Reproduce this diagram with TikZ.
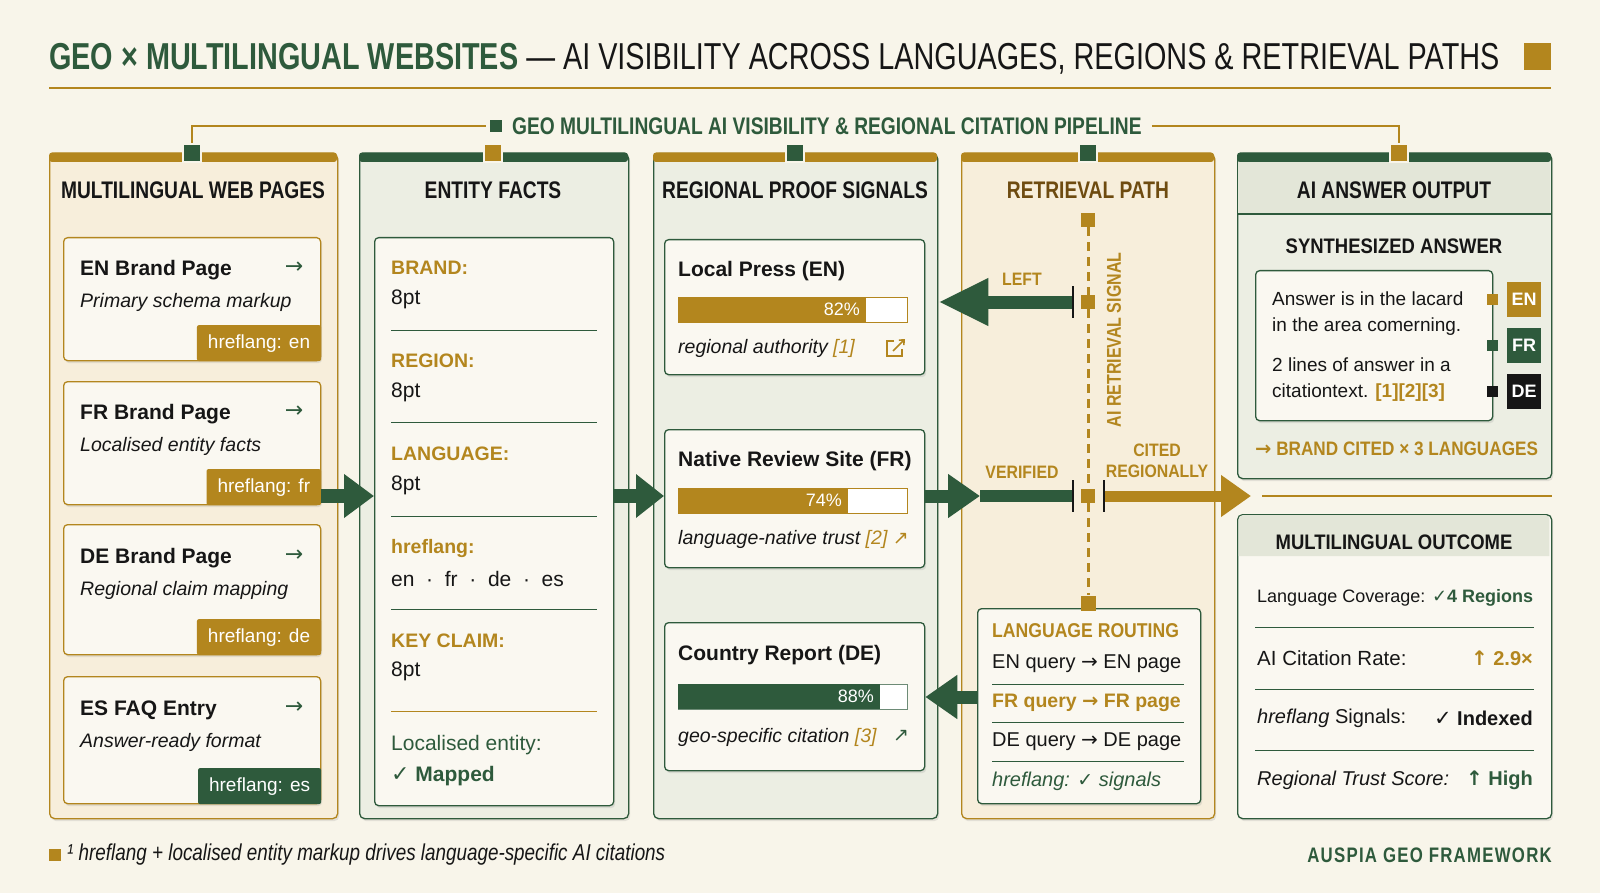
\documentclass[tikz,border=0pt]{standalone}
\usepackage{fontspec}
\setmainfont{Liberation Sans}
\newfontfamily\tcond[FakeStretch=0.768]{Liberation Sans}
\newfontfamily\fcond[FakeStretch=0.82]{Liberation Sans}
\newfontfamily\hcond[FakeStretch=0.8]{Liberation Sans}
\newfontfamily\scond[FakeStretch=0.88]{Liberation Sans}
\newfontfamily\spcond[FakeStretch=0.8,LetterSpace=6]{Liberation Sans}
\newfontfamily\sym{DejaVu Sans}
\usetikzlibrary{arrows.meta,shadows,calc}
\newcommand\fsz[1]{\fontsize{#1}{#1}\selectfont}
\newcommand\rarr{{\sym\char"2192}}
\newcommand\uarr{{\sym\char"2191}}
\definecolor{bg}{HTML}{F8F5EA}
\definecolor{gold}{HTML}{B3861E}
\definecolor{grn}{HTML}{2E5A3C}
\definecolor{peach}{HTML}{F7EEDB}
\definecolor{sage}{HTML}{ECEEE3}
\definecolor{cardw}{HTML}{FAF8F1}
\definecolor{brownh}{HTML}{6E4B10}
\definecolor{ink}{HTML}{161616}
\definecolor{band}{HTML}{E3E6D8}
\begin{document}
\begin{tikzpicture}[x=1pt,y=-1pt,
  shd/.style={drop shadow={shadow xshift=1.5pt,shadow yshift=-2.5pt,opacity=0.18}},
  colbox/.style={draw=#1,line width=1.3pt,rounded corners=5pt,anchor=north west,inner sep=0pt,shd},
  card/.style={draw=#1,fill=cardw,line width=1.3pt,rounded corners=4pt,anchor=north west,inner sep=0pt,shd},
  tag/.style={fill=#1,text=white,font=\fsz{19},inner xsep=11pt,inner ysep=0pt,minimum height=36pt,rounded corners=2pt,anchor=south east},
  t/.style={anchor=west,inner sep=0pt,text=ink},
  colhead/.style={font=\hcond\bfseries\fsz{24},text=ink,inner sep=0pt},
  sq/.style={fill=#1,draw=bg,line width=2pt,minimum width=18pt,minimum height=18pt,inner sep=0pt},
  msq/.style 2 args={fill=#1,minimum size=#2,inner sep=0pt},
  bar/.style={draw=#1,fill=white,line width=1pt,minimum width=229pt,minimum height=25pt,anchor=north west,inner sep=0pt},
  pct/.style={anchor=east,inner sep=0pt,text=white,font=\fsz{18}},
  lbl/.style={t,text=gold,font=\bfseries\fsz{19.5}},
  val/.style={t,font=\fsz{21}},
  sep/.style={grn,line width=0.9pt},
  bigarrow/.style={#1,line width=13pt,-{Triangle[length=32pt,width=42pt]}},
  lang/.style={minimum width=34pt,minimum height=35pt,inner sep=0pt,anchor=north west,text=white,font=\bfseries\fsz{18},fill=#1}
]
\useasboundingbox (0,0) rectangle (1600,893);
\fill[bg] (0,0) rectangle (1600,893);

% ---------- title ----------
\node[anchor=base west,inner sep=0pt,text=ink,font=\tcond\fsz{37.5}] (title) at (49,70)
  {\textcolor{grn}{\bfseries GEO × MULTILINGUAL WEBSITES} — AI VISIBILITY ACROSS LANGUAGES, REGIONS \& RETRIEVAL PATHS};
\node[msq={gold}{27pt},anchor=north west] (tsq) at (1524,43) {};
\draw[gold,line width=2.5pt] (49,88) -- (1551,88);

% ---------- pipeline label ----------
\node[msq={grn}{12pt}] (psq) at (496,126) {};
\node[anchor=west,inner sep=0pt,text=grn,font=\hcond\bfseries\fsz{24}] (ptxt) at (512,126)
  {GEO MULTILINGUAL AI VISIBILITY \& REGIONAL CITATION PIPELINE};

% ---------- columns ----------
\node[colbox=gold,fill=peach,minimum width=288pt,minimum height=665pt] (c1) at (49,153) {};
\node[colbox=grn,fill=sage,minimum width=269pt,minimum height=665pt] (c2) at (359,153) {};
\node[colbox=grn,fill=sage,minimum width=284pt,minimum height=665pt] (c3) at (653,153) {};
\node[colbox=gold,fill=peach,minimum width=253pt,minimum height=665pt] (c4) at (961,153) {};
\node[colbox=grn,fill=sage,minimum width=314pt,minimum height=325pt] (c5a) at (1237,153) {};
\node[colbox=grn,fill=cardw,minimum width=314pt,minimum height=304pt] (c5b) at (1237,514) {};

% top bars
\fill[gold,rounded corners=3pt] (49,152.5) rectangle (337,162);
\fill[grn,rounded corners=3pt] (359,152.5) rectangle (628,162);
\fill[gold,rounded corners=3pt] (653,152.5) rectangle (937,162);
\fill[gold,rounded corners=3pt] (961,152.5) rectangle (1214,162);
% header bands col5
\fill[band] (1238,214) -- (1238,162) -- (1550,162) -- (1550,214) -- cycle;
\fill[grn,rounded corners=3pt] (1237,152.5) rectangle (1551,162);
\draw[grn,line width=1.3pt] (1237,214) -- (1551,214);
\fill[band] (1238.6,556) {[rounded corners=4pt] -- (1238.6,515.2) -- (1549.4,515.2)} -- (1549.4,556) -- cycle;

% squares on bars
\node[sq=grn] (c1sq) at (192,153) {};
\node[sq=gold] (c2sq) at (493,153) {};
\node[sq=grn] (c3sq) at (795,153) {};
\node[sq=grn] (c4sq) at (1088,153) {};
\node[sq=gold] (c5sq) at (1399,153) {};

% pipeline connectors
\draw[gold,line width=1.6pt] ([xshift=-4pt]psq.west) -| (c1sq.north);
\draw[gold,line width=1.6pt] ([xshift=10pt]ptxt.east) -| (c5sq.north);

% column headings
\node[colhead] (c1h) at (193,190) {MULTILINGUAL WEB PAGES};
\node[colhead] (c2h) at (493,190) {ENTITY FACTS};
\node[colhead] (c3h) at (795,190) {REGIONAL PROOF SIGNALS};
\node[colhead,text=brownh] (c4h) at (1088,190) {RETRIEVAL PATH};
\node[colhead] (c5h) at (1394,190) {AI ANSWER OUTPUT};

% ---------- column 1: pages ----------
\node[card=gold,minimum width=257pt,minimum height=123pt] (p1) at (63,237) {};
\node[card=gold,minimum width=257pt,minimum height=123pt] (p2) at (63,381) {};
\node[card=gold,minimum width=257pt,minimum height=130pt] (p3) at (63,524) {};
\node[card=gold,minimum width=257pt,minimum height=127pt] (p4) at (63,676) {};

\node[t,font=\bfseries\fsz{21}] (p1t) at (80,270) {EN Brand Page};
\node[t,font=\itshape\fsz{19.5}] (p1s) at (80,302) {Primary schema markup};
\node[t,font=\bfseries\fsz{21}] (p2t) at (80,414) {FR Brand Page};
\node[t,font=\itshape\fsz{19.5}] (p2s) at (80,446) {Localised entity facts};
\node[t,font=\bfseries\fsz{21}] (p3t) at (80,558) {DE Brand Page};
\node[t,font=\itshape\fsz{19.5}] (p3s) at (80,590) {Regional claim mapping};
\node[t,font=\bfseries\fsz{21}] (p4t) at (80,710) {ES FAQ Entry};
\node[t,font=\itshape\fsz{19.5}] (p4s) at (80,742) {Answer-ready format};
\foreach \n/\yy in {1/268,2/412,3/556,4/708}
  \node[inner sep=0pt,text=grn,font=\sym\fsz{22}] (p\n a) at (294,\yy) {→};
\node[tag=gold] (p1g) at (p1.south east) {hreflang: en};
\node[tag=gold] (p2g) at (p2.south east) {hreflang: fr};
\node[tag=gold] (p3g) at (p3.south east) {hreflang: de};
\node[tag=grn] (p4g) at (p4.south east) {hreflang: es};

% ---------- column 2: entity facts ----------
\node[card=grn,minimum width=239pt,minimum height=568pt] (c2in) at (374,237) {};
\node[lbl] (e1l) at (391,268) {BRAND:};
\node[val] (e1v) at (391,299) {8pt};
\draw[sep] (391,330) -- (597,330);
\node[lbl] (e2l) at (391,361) {REGION:};
\node[val] (e2v) at (391,392) {8pt};
\draw[sep] (391,422) -- (597,422);
\node[lbl] (e3l) at (391,454) {LANGUAGE:};
\node[val] (e3v) at (391,485) {8pt};
\draw[sep] (391,516) -- (597,516);
\node[lbl] (e4l) at (391,548) {hreflang:};
\node[val] (e4v) at (391,579) {en\ \ ·\ \ fr\ \ ·\ \ de\ \ ·\ \ es};
\draw[sep] (391,609) -- (597,609);
\node[lbl] (e5l) at (391,641) {KEY CLAIM:};
\node[val] (e5v) at (391,671) {8pt};
\draw[gold,line width=1pt] (391,711) -- (597,711);
\node[val,text=grn] (e6l) at (391,745) {Localised entity:};
\node[val,text=grn] (e6v) at (391,776) {{\sym\fsz{22}✓} \bfseries Mapped};

% ---------- column 3: proof signals ----------
\node[card=grn,minimum width=260pt,minimum height=135pt] (r1) at (664,239) {};
\node[card=grn,minimum width=260pt,minimum height=138pt] (r2) at (664,429) {};
\node[card=grn,minimum width=260pt,minimum height=148pt] (r3) at (664,622) {};

\node[t,font=\bfseries\fsz{21}] (r1t) at (678,271) {Local Press (EN)};
\node[bar=gold] (r1b) at (678,297) {};
\fill[gold] (r1b.north west) rectangle ++(187.8,25);
\node[pct] (r1p) at (860,309.5) {82\%};
\node[t,font=\itshape\fsz{19.5}] (r1c) at (678,348) {regional authority \textcolor{gold}{[1]}};
\draw[gold,line width=1.6pt] (894,341) -- (887,341) -- (887,356) -- (902,356) -- (902,349);
\draw[gold,line width=1.6pt,-{Straight Barb[length=4pt,width=7pt]}] (893,351) -- (905,339);

\node[t,font=\bfseries\fsz{21}] (r2t) at (678,461) {Native Review Site (FR)};
\node[bar=gold] (r2b) at (678,488) {};
\fill[gold] (r2b.north west) rectangle ++(169.5,25);
\node[pct] (r2p) at (842,500.5) {74\%};
\node[t,font=\itshape\fsz{19.5}] (r2c) at (678,539) {language-native trust \textcolor{gold}{[2]} {\sym\fsz{19}\textcolor{gold}{↗}}};

\node[t,font=\bfseries\fsz{21}] (r3t) at (678,655) {Country Report (DE)};
\node[bar=grn!70] (r3b) at (678,684) {};
\fill[grn] (r3b.north west) rectangle ++(201.5,25);
\node[pct] (r3p) at (874,696.5) {88\%};
\node[t,font=\itshape\fsz{19.5}] (r3c) at (678,737) {geo-specific citation \textcolor{gold}{[3]}};
\node[inner sep=0pt,text=grn,font=\sym\fsz{19}] (r3i) at (901,736) {↗};

% ---------- column 4: retrieval path ----------
\node[card=grn,minimum width=223pt,minimum height=195pt] (rb) at (977,608) {};
\node[msq={gold}{14pt}] (q1) at (1088,220) {};
\node[msq={gold}{14pt}] (q2) at (1088,302) {};
\node[msq={gold}{14pt}] (q3) at (1088,496) {};
\node[msq={gold}{15pt}] (q4) at (1088,603) {};
\draw[gold,line width=3pt,dash pattern=on 9pt off 6pt] (q1.south) -- (q2.north);
\draw[gold,line width=3pt,dash pattern=on 9pt off 6pt] (q2.south) -- (q3.north);
\draw[gold,line width=3pt,dash pattern=on 9pt off 6pt] (q3.south) -- (q4.north);
\node[rotate=90,inner sep=0pt,text=gold,font=\hcond\bfseries\fsz{20}] (rl) at (1114,340) {AI RETRIEVAL SIGNAL};

\node[inner sep=0pt,text=gold,font=\scond\bfseries\fsz{18}] (ll) at (1022,279) {LEFT};
\node[inner sep=0pt,text=gold,font=\scond\bfseries\fsz{18}] (vl) at (1022,472) {VERIFIED};
\node[inner sep=0pt,align=center,text=gold,font=\scond\bfseries\fontsize{18}{21}\selectfont] (cl) at (1157,461) {CITED\\REGIONALLY};

\coordinate (mid) at (0,496);
\coordinate (lt) at (1073,302);
\coordinate (vt) at (1073,496);
\coordinate (ct) at (1104,496);
\coordinate (vm) at (980,496);
\coordinate (ce) at (1251,496);
\coordinate (rr) at (0,697);

\draw[grn,line width=13pt,-{Triangle[length=50pt,width=44pt]}] (lt) -- (c3.east |- lt);
\draw[bigarrow=grn] (r2.east |- vt) -- (vm);
\draw[grn,line width=12pt] (vm) -- (vt);
\draw[gold,line width=11pt,-{Triangle[length=30pt,width=40pt]}] (ct) -- (ce);
\foreach \c in {lt,vt,ct}
  \draw[ink,line width=2pt] ($(\c)+(0,-16)$) -- ($(\c)+(0,16)$);
\draw[gold,line width=1.5pt] ([xshift=11pt]ce) -- (c5a.east |- ce);

\node[t,text=gold,font=\scond\bfseries\fsz{20}] (rh) at (992,631) {LANGUAGE ROUTING};
\node[t,font=\fsz{20}] (rq1) at (992,664) {EN query \rarr\ EN page};
\draw[sep] (992,684) -- (1184,684);
\node[t,text=gold,font=\bfseries\fsz{19.5}] (rq2) at (992,703) {FR query \rarr\ FR page};
\draw[sep] (992,722) -- (1184,722);
\node[t,font=\fsz{20}] (rq3) at (992,742) {DE query \rarr\ DE page};
\draw[sep] (992,761) -- (1184,761);
\node[t,text=grn,font=\itshape\fsz{20}] (rq4) at (992,781) {hreflang: {\sym\fsz{19}✓} signals};

\draw[bigarrow=grn] (rb.west |- rr) -- (r3.east |- rr);

% flow arrows between columns
\draw[grn,line width=14pt,-{Triangle[length=30pt,width=42pt]}] (p2g.east |- mid) -- (c2in.west |- mid);
\draw[grn,line width=14pt,-{Triangle[length=28pt,width=42pt]}] (c2in.east |- mid) -- (r2.west |- mid);

% ---------- column 5: answer ----------
\node[inner sep=0pt,text=ink,font=\scond\bfseries\fsz{21}] (sa) at (1394,246) {SYNTHESIZED ANSWER};
\node[card=grn,minimum width=237pt,minimum height=150pt] (ab) at (1255,270) {};
\node[t,font=\fsz{19}] (a1) at (1272,299) {Answer is in the lacard};
\node[t,font=\fsz{19}] (a2) at (1272,327) {in the area comerning.};
\node[t,font=\fsz{19}] (a3) at (1272,365) {2 lines of answer in a};
\node[t,font=\fsz{19}] (a4) at (1272,393) {citationtext. \textcolor{gold}{\bfseries [1][2][3]}};
\node[msq={gold}{11pt}] (s1) at (1492,299) {};
\node[msq={grn}{11pt}] (s2) at (1492,345) {};
\node[msq={ink}{11pt}] (s3) at (1492,391) {};
\node[lang=gold] (len) at (1507,282) {EN};
\node[lang=grn] (lfr) at (1507,328) {FR};
\node[lang=ink] (lde) at (1507,374) {DE};
\node[t,text=gold,font=\scond\bfseries\fsz{19.5}] (bc) at (1255,449) {\rarr\ BRAND CITED × 3 LANGUAGES};

\node[inner sep=0pt,text=ink,font=\scond\bfseries\fsz{21}] (mo) at (1394,542) {MULTILINGUAL OUTCOME};
\node[t,font=\fsz{18}] (o1) at (1257,598) {Language Coverage: \textcolor{grn}{{\sym\fsz{18}✓}\bfseries 4 Regions}};
\draw[sep] (1255,627) -- (1534,627);
\node[t,font=\fsz{20.5}] (o2) at (1257,658) {AI Citation Rate:};
\node[anchor=east,inner sep=0pt,text=gold,font=\bfseries\fsz{20}] (o2v) at (1533,658) {\uarr\ 2.9×};
\draw[sep] (1255,689) -- (1534,689);
\node[t,font=\fsz{20}] (o3) at (1257,718) {\textit{hreflang} Signals:};
\node[anchor=east,inner sep=0pt,text=ink,font=\bfseries\fsz{20}] (o3v) at (1533,718) {{\sym\fsz{21}✓} Indexed};
\draw[sep] (1255,750) -- (1534,750);
\node[t,font=\itshape\fsz{20}] (o4) at (1257,780) {Regional Trust Score:};
\node[anchor=east,inner sep=0pt,text=grn,font=\bfseries\fsz{20}] (o4v) at (1533,780) {\uarr\ High};

% ---------- footer ----------
\node[msq={gold}{12.5pt}] (fsq) at (55,855) {};
\node[t,font=\fcond\itshape\fsz{23}] (ftxt) at (67,855) {¹ hreflang + localised entity markup drives language-specific AI citations};
\node[anchor=east,inner sep=0pt,text=grn,font=\spcond\bfseries\fsz{21}] (brand) at (1552,855) {AUSPIA GEO FRAMEWORK};
\end{tikzpicture}
\end{document}
